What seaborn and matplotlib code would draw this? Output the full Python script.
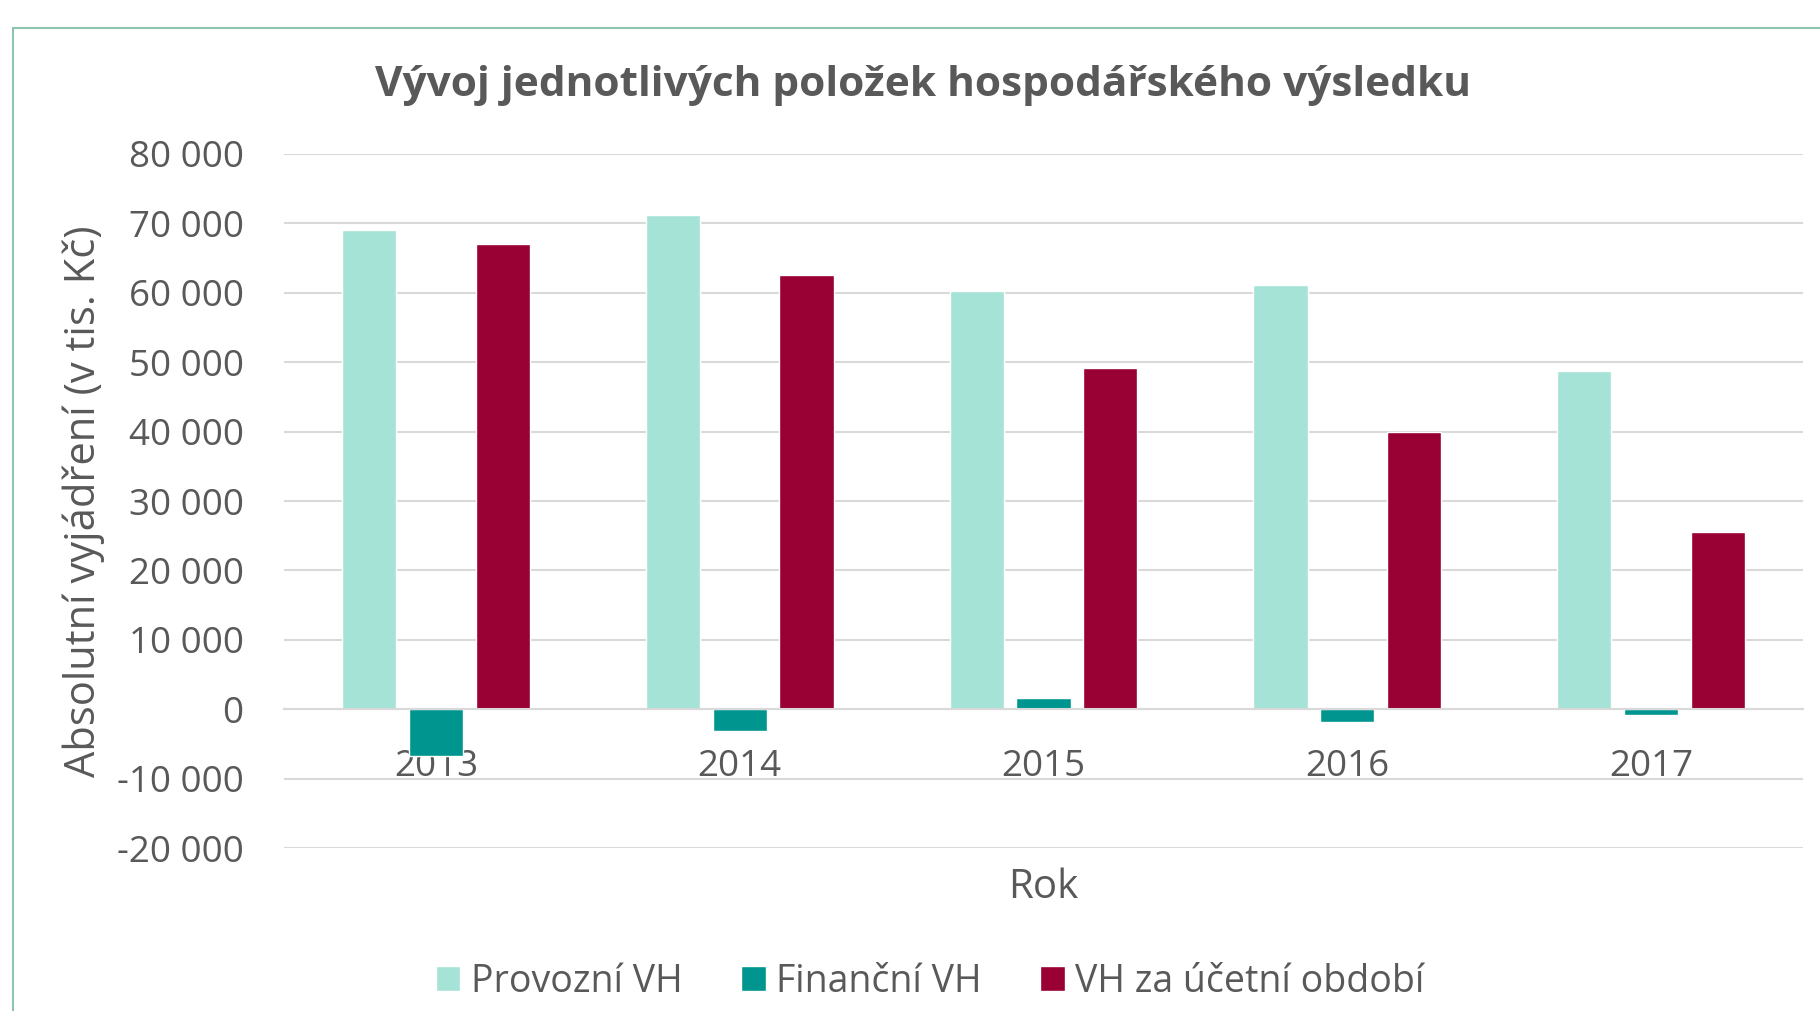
import matplotlib
matplotlib.use("Agg")
import matplotlib.pyplot as plt
from matplotlib.patches import Rectangle
import pandas as pd
import seaborn as sns

# values (tis. Kc)
years = ["2013", "2014", "2015", "2016", "2017"]
provozni = [69100, 71200, 60300, 61100, 48700]
financni = [-6700, -3200, 1600, -1800, -900]
vh_obdobi = [67000, 62600, 49200, 40000, 25600]
series = ["Provozní VH", "Finanční VH", "VH za účetní období"]
colors = ["#a6e3d7", "#00968f", "#990033"]
yticks = [-20000, -10000, 0, 10000, 20000, 30000, 40000, 50000, 60000, 70000, 80000]

df = pd.DataFrame({"Rok": years, series[0]: provozni, series[1]: financni, series[2]: vh_obdobi})
df = df.melt(id_vars="Rok", var_name="Položka", value_name="Hodnota")

sns.set_style("white")
plt.rcParams["font.family"] = ["Open Sans", "DejaVu Sans"]
txt = "#595959"

fig = plt.figure(figsize=(18.2, 10.11), dpi=100)
ax = fig.add_axes([0.156, 0.1612, 0.8347, 0.6865])

sns.barplot(data=df, x="Rok", y="Hodnota", hue="Položka", order=years, hue_order=series,
            palette=colors, width=0.66, gap=0.19, saturation=1, ax=ax)

ax.set_xlim(-0.5, 4.5)
ax.set_ylim(-20000, 80000)
ax.set_yticks(yticks)
ax.set_yticklabels([f"{v:,}".replace(",", " ") for v in yticks])
ax.yaxis.grid(True, color="#d9d9d9", lw=1.5)
ax.set_axisbelow(True)
for s in ["top", "right", "left"]:
    ax.spines[s].set_visible(False)
ax.spines["bottom"].set_position(("data", 0))
ax.spines["bottom"].set_color("#d9d9d9")
ax.spines["bottom"].set_linewidth(1.5)
ax.tick_params(axis="y", length=0, pad=29, labelsize=26.5, labelcolor=txt)
ax.tick_params(axis="x", length=0, pad=29, labelsize=26.5, labelcolor=txt)

ax.set_xlabel("Rok", fontsize=29, color=txt)
ax.xaxis.set_label_coords(0.5, -0.028)
ax.set_ylabel("Absolutní vyjádření (v tis. Kč)", fontsize=30, color=txt)
ax.yaxis.set_label_coords(-0.118, 0.5)

fig.suptitle("Vývoj jednotlivých položek hospodářského výsledku", x=0.507, y=0.915,
             va="center", fontsize=30.5, fontweight="bold", color=txt)

sns.move_legend(ax, "center", bbox_to_anchor=(0.4253, -0.193), ncol=3, frameon=False,
                title=None, fontsize=27, handlelength=0.66, handleheight=0.66,
                handletextpad=0.28, columnspacing=1.55)
for t in ax.get_legend().get_texts():
    t.set_color(txt)

# chart border (cut off on the right and bottom)
fig.add_artist(Rectangle((13 / 1820, -0.1), 1.2, 1.0723, transform=fig.transFigure,
                         fill=False, edgecolor="#8cc5ae", lw=1.5, clip_on=False))

fig.savefig("out.png", dpi=100)
